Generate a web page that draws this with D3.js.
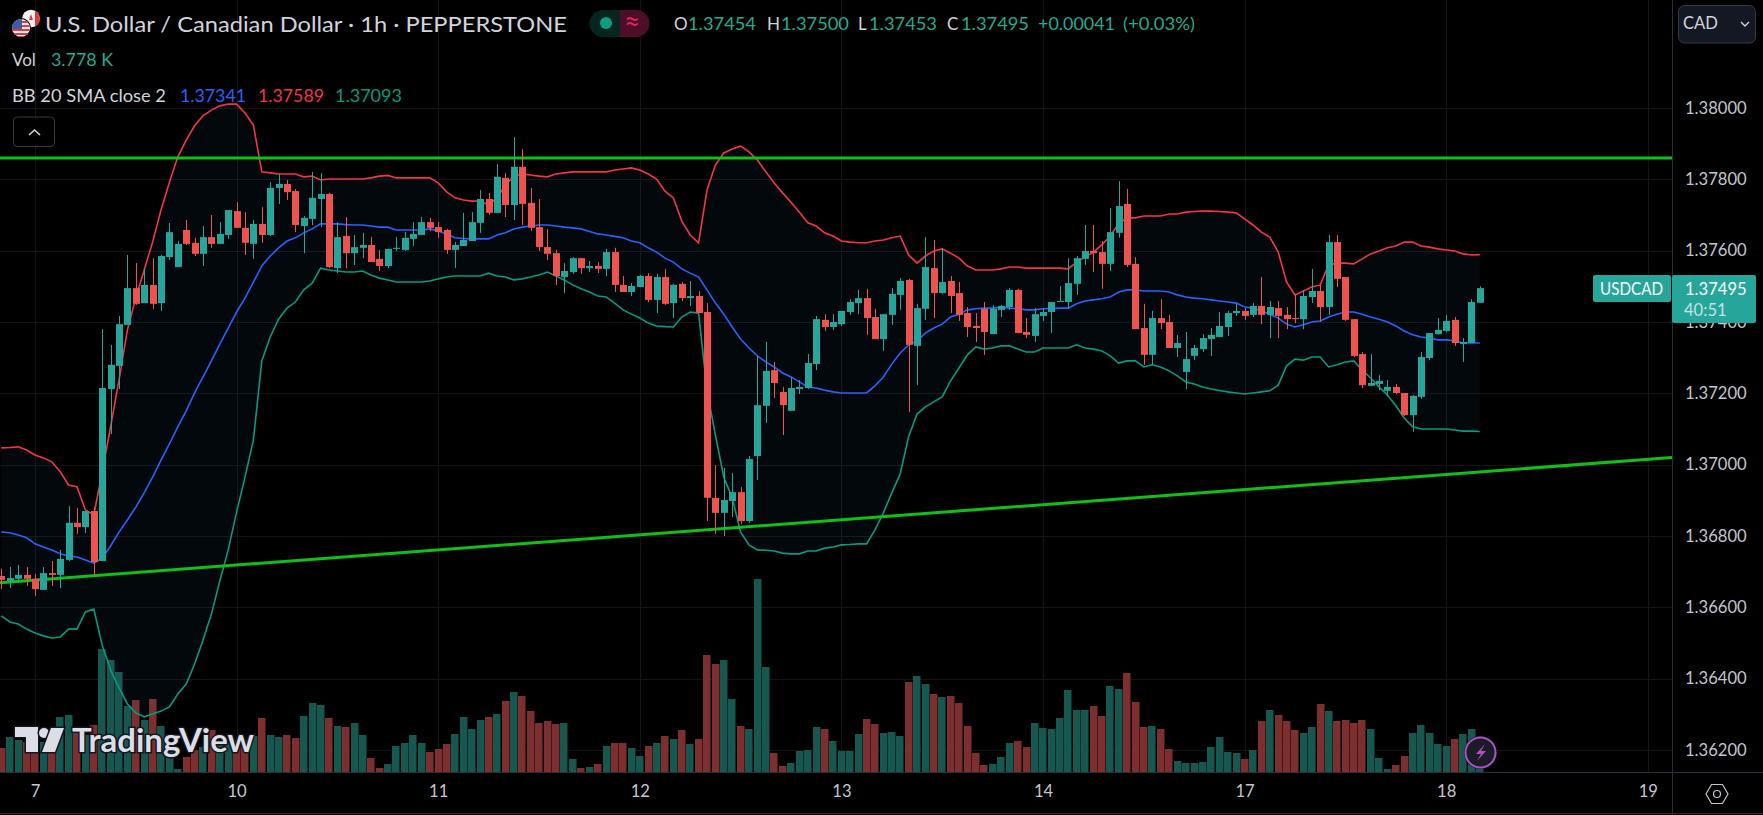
<!DOCTYPE html>
<html>
<head>
<meta charset="utf-8">
<title>USDCAD 1h</title>
<script src="https://cdn.jsdelivr.net/npm/d3@7"></script>
<style>
  html, body { margin: 0; padding: 0; background: #000; overflow: hidden; }
  text { font-family: "Lato", "Noto Sans", sans-serif; }
</style>
</head>
<body>
<div id="chart"></div>
<script>
// all price series are in points above 1.36000 (1 point = 0.00001)
const opens = [
  688,674,680,691,680,649,696,691,733,837,
  825,870,730,1212,1277,1392,1495,1453,1504,1453,
  1582,1554,1658,1622,1591,1638,1619,1644,1711,1664,
  1619,1675,1644,1776,1787,1767,1669,1689,1745,1759,
  1551,1641,1593,1608,1616,1577,1557,1605,1602,1633,
  1644,1680,1666,1658,1602,1613,1627,1678,1745,1706,
  1804,1728,1835,1734,1666,1610,1593,1526,1540,1579,
  1551,1557,1549,1596,1504,1484,1498,1529,1462,1526,
  1453,1507,1467,1473,1428,907,865,898,923,842,
  1024,1165,1265,1204,1151,1212,1215,1282,1406,1386,
  1394,1428,1453,1467,1414,1352,1420,1476,1518,1333,
  1437,1551,1481,1515,1481,1425,1389,1437,1366,1434,
  1442,1490,1372,1361,1417,1428,1456,1456,1507,1577,
  1599,1596,1563,1650,1731,1563,1383,1308,1411,1400,
  1327,1260,1305,1324,1352,1358,1386,1425,1431,1420,
  1445,1420,1439,1420,1411,1408,1470,1487,1442,1624,
  1526,1408,1310,1221,1226,1207,1218,1201,1139,1190,
  1299,1366,1375,1406,1338,1341,1454];
const highs = [
  708,713,719,713,694,713,730,761,884,879,
  870,881,1380,1336,1417,1588,1565,1551,1579,1588,
  1678,1627,1686,1636,1669,1700,1680,1714,1736,1708,
  1686,1722,1792,1815,1798,1773,1697,1821,1818,1762,
  1680,1694,1644,1650,1638,1602,1605,1638,1652,1680,
  1694,1692,1680,1661,1624,1706,1708,1770,1762,1843,
  1818,1919,1885,1776,1745,1661,1602,1565,1582,1579,
  1571,1568,1605,1608,1529,1509,1532,1537,1535,1549,
  1507,1512,1515,1487,1453,999,991,977,937,1024,
  1305,1344,1288,1218,1246,1237,1310,1417,1422,1422,
  1431,1464,1490,1493,1437,1422,1495,1523,1521,1451,
  1638,1630,1608,1529,1512,1442,1425,1456,1448,1448,
  1495,1493,1411,1439,1439,1456,1501,1579,1585,1672,
  1672,1627,1720,1795,1773,1582,1451,1431,1464,1420,
  1364,1372,1336,1366,1383,1428,1431,1451,1439,1453,
  1526,1459,1459,1442,1479,1490,1549,1504,1644,1644,
  1526,1408,1316,1310,1251,1237,1226,1201,1195,1316,
  1369,1411,1420,1414,1355,1464,1500];
const lows = [
  651,654,668,660,632,649,660,654,730,806,
  808,691,730,1086,1212,1392,1448,1453,1437,1431,
  1574,1554,1616,1585,1557,1608,1619,1633,1664,1588,
  1577,1622,1641,1731,1742,1652,1593,1672,1666,1551,
  1537,1551,1560,1579,1568,1543,1551,1599,1599,1613,
  1644,1655,1636,1591,1551,1613,1627,1650,1700,1706,
  1694,1686,1672,1655,1599,1574,1504,1481,1535,1535,
  1540,1537,1529,1484,1484,1473,1498,1456,1425,1448,
  1411,1459,1445,1425,842,806,800,853,834,837,
  957,1117,1187,1083,1151,1198,1212,1265,1375,1378,
  1389,1420,1422,1364,1352,1319,1392,1434,1148,1223,
  1406,1411,1479,1425,1403,1358,1344,1308,1366,1414,
  1434,1369,1355,1344,1403,1369,1456,1437,1476,1560,
  1540,1493,1543,1636,1554,1380,1280,1280,1380,1327,
  1302,1212,1293,1316,1305,1358,1361,1417,1406,1414,
  1394,1355,1355,1380,1397,1380,1453,1400,1420,1498,
  1403,1302,1215,1221,1209,1193,1198,1137,1092,1184,
  1293,1364,1372,1333,1288,1341,1453];
const closes = [
  677,682,691,680,651,696,691,736,837,825,
  870,727,1215,1280,1394,1495,1451,1504,1451,1585,
  1652,1619,1619,1591,1638,1619,1647,1714,1664,1622,
  1675,1644,1776,1787,1764,1672,1692,1748,1759,1554,
  1638,1593,1610,1616,1568,1557,1605,1608,1636,1647,
  1680,1664,1652,1602,1616,1630,1680,1745,1706,1807,
  1728,1835,1731,1664,1610,1591,1529,1543,1579,1551,
  1557,1549,1596,1504,1484,1501,1529,1462,1526,1451,
  1504,1467,1473,1425,907,865,901,923,842,1016,
  1167,1263,1229,1167,1215,1218,1285,1408,1386,1400,
  1431,1456,1467,1411,1352,1422,1479,1515,1336,1439,
  1554,1481,1512,1473,1420,1386,1383,1372,1437,1445,
  1490,1369,1364,1422,1428,1456,1459,1509,1579,1599,
  1593,1563,1652,1725,1560,1380,1308,1411,1397,1327,
  1341,1296,1327,1355,1364,1389,1425,1431,1417,1445,
  1420,1442,1417,1408,1408,1473,1487,1442,1624,1521,
  1406,1305,1223,1229,1235,1218,1201,1139,1193,1302,
  1369,1378,1403,1341,1344,1456,1495];

const bbUpper = [
  1047,1048,1050,1041,1027,1019,1008,980,943,938,
  873,859,980,1106,1237,1378,1467,1546,1624,1714,
  1792,1863,1910,1950,1978,1994,2006,2011,2011,1986,
  1952,1821,1818,1815,1815,1815,1807,1809,1798,1801,
  1801,1801,1801,1801,1804,1809,1811,1804,1804,1804,
  1804,1804,1790,1765,1748,1742,1739,1739,1728,1748,
  1784,1809,1815,1812,1809,1807,1815,1818,1821,1821,
  1821,1821,1821,1826,1829,1832,1826,1815,1801,1767,
  1748,1683,1644,1622,1770,1840,1874,1885,1893,1877,
  1854,1821,1790,1762,1736,1708,1678,1669,1650,1641,
  1627,1624,1622,1622,1627,1630,1636,1641,1588,1565,
  1585,1599,1605,1593,1579,1557,1546,1546,1546,1549,
  1554,1554,1551,1551,1551,1551,1551,1549,1568,1582,
  1596,1616,1641,1675,1692,1692,1697,1697,1697,1703,
  1703,1708,1710,1711,1711,1710,1708,1706,1689,1672,
  1652,1638,1596,1512,1476,1487,1498,1504,1560,1565,
  1565,1563,1577,1591,1599,1608,1613,1624,1624,1613,
  1610,1605,1602,1599,1591,1588,1589];
const bbBasis = [
  811,809,803,795,778,769,761,750,744,741,
  733,724,738,772,811,845,881,921,965,1013,
  1058,1106,1151,1201,1246,1291,1338,1383,1428,1467,
  1512,1557,1585,1608,1627,1636,1650,1661,1675,1675,
  1675,1673,1672,1672,1669,1666,1666,1658,1658,1658,
  1658,1661,1655,1647,1636,1634,1633,1633,1633,1644,
  1650,1661,1666,1669,1672,1672,1669,1666,1664,1661,
  1654,1647,1644,1640,1636,1627,1622,1608,1596,1579,
  1568,1549,1537,1526,1490,1453,1422,1386,1352,1327,
  1305,1288,1274,1257,1246,1232,1218,1215,1209,1204,
  1201,1201,1201,1201,1221,1246,1282,1313,1336,1347,
  1369,1383,1394,1414,1422,1434,1437,1439,1439,1442,
  1439,1437,1434,1434,1437,1438,1439,1439,1451,1459,
  1462,1465,1470,1484,1490,1490,1487,1487,1487,1484,
  1476,1470,1467,1465,1462,1459,1456,1453,1442,1439,
  1431,1422,1411,1394,1386,1392,1400,1403,1414,1422,
  1428,1428,1422,1414,1408,1400,1389,1375,1364,1358,
  1355,1350,1350,1347,1341,1341,1341];
const bbLower = [
  576,559,553,539,528,520,514,517,539,539,
  587,595,494,424,374,329,304,293,301,309,
  321,357,385,441,508,581,674,761,867,965,
  1069,1291,1358,1408,1439,1456,1490,1509,1551,1546,
  1543,1540,1540,1543,1532,1523,1518,1512,1512,1512,
  1512,1515,1521,1526,1529,1529,1529,1529,1537,1529,
  1526,1518,1521,1526,1532,1540,1529,1518,1504,1493,
  1484,1473,1470,1453,1434,1422,1411,1397,1389,1387,
  1386,1414,1428,1425,1209,1083,965,907,811,775,
  761,760,758,752,750,750,758,758,766,769,
  775,776,778,778,817,865,921,974,1078,1142,
  1162,1176,1190,1235,1271,1308,1330,1324,1327,1333,
  1333,1324,1316,1316,1327,1327,1327,1327,1336,1327,
  1324,1319,1305,1285,1291,1291,1274,1280,1274,1263,
  1249,1232,1226,1218,1212,1208,1204,1201,1198,1201,
  1204,1207,1223,1277,1296,1293,1302,1302,1274,1280,
  1288,1291,1265,1243,1218,1195,1165,1131,1106,1100,
  1100,1100,1100,1097,1094,1094,1093];

// tick volume, thousands
const volumes = [
  6,8.75,8,7.5,8.25,7.5,7.5,13.75,14.25,9.75,
  9.25,11.75,30.75,28,25,16.5,18,13,18.25,11.5,
  5,0.75,3.75,5.5,6.25,10.5,7.25,7.25,8,8,
  9,13.5,9.25,8.75,9.25,8.5,14,17.25,16.75,13.5,
  11.5,11.25,12.25,9.25,3.5,1,2,6.5,7.25,9.25,
  7.25,5,5.75,7,9.5,13.75,10.75,13,13.75,14.5,
  17.75,20,19,15.25,12.25,12.75,12,12.25,3.25,1,
  1.25,2,6.5,7.25,7.25,6,4,6.5,7.25,9,
  8.25,10.5,7,8.25,29.25,27,28,18.25,11.5,10.75,
  48.25,26.25,4.75,1.5,2.25,5.25,5.5,11.25,10.75,7.75,
  5.25,5.25,9.5,13.25,12,9.75,10,9,22.5,24,
  22,19.5,18.75,19,17.25,11.5,4.75,1.75,2,3.75,
  7.25,7.75,6.25,12.25,11,10.75,13.5,20.5,15.5,15.5,
  16.5,14,21.5,20.75,24.75,17.5,11.25,11.5,10.75,5.75,
  2.75,2.25,2.25,2.5,6.25,8.75,5,4.75,3.25,5.5,
  12.75,15.5,14.25,12.75,10.5,9.75,11.25,17,15.25,12.75,
  13,12.25,13,10.75,3.5,0.75,1.75,4,9.75,11.75,
  9.75,7,6.5,8.25,9.5,10.75,3.778];

const priceTicks = [1.362, 1.364, 1.366, 1.368, 1.37, 1.372, 1.374, 1.376, 1.378, 1.38];
const dayBars = [4, 28, 52, 76, 100, 124, 148, 172, 196];
const dayLabels = ['7', '10', '11', '12', '13', '14', '17', '18', '19'];

// drawn trend lines: bar position and points at both ends
const flatLineBars = [-1, 199], flatLinePts = [1860, 1860];
const riseLineBars = [-0.167, 198.9], riseLinePts = [669, 1020];

const width = 1763, height = 815;
const paneRight = 1672, paneBottom = 772;

const toPrice = p => 1.36 + p / 100000;

const x = d3.scaleLinear().domain([0, 176]).range([1.4, 1479.8]);
const y = d3.scaleLinear().domain([1.362, 1.38]).range([750, 108]);
const yVol = d3.scaleLinear().domain([0, 50]).range([paneBottom, paneBottom - 200]);

const upColor = '#26a69a', downColor = '#ef5350';
const upVol = '#165850', downVol = '#7d2e2e';
const gridColor = '#141414', lineColor = '#2a2e39';
const bars = opens.map((o, i) => ({ i, o: toPrice(o), h: toPrice(highs[i]), l: toPrice(lows[i]), c: toPrice(closes[i]), v: volumes[i], up: closes[i] >= o }));

const svg = d3.select('#chart').append('svg')
  .attr('width', width).attr('height', height)
  .style('display', 'block').style('background', '#000');

svg.append('defs').append('clipPath').attr('id', 'pane')
  .append('rect').attr('width', paneRight).attr('height', paneBottom);

const pane = svg.append('g').attr('clip-path', 'url(#pane)');

// grid
pane.selectAll('.hgrid').data(priceTicks).join('line')
  .attr('x1', 0).attr('x2', paneRight)
  .attr('y1', d => Math.round(y(d)) + 0.5).attr('y2', d => Math.round(y(d)) + 0.5)
  .attr('stroke', gridColor);
pane.selectAll('.vgrid').data(dayBars).join('line')
  .attr('y1', 0).attr('y2', paneBottom)
  .attr('x1', d => Math.round(x(d)) + 0.5).attr('x2', d => Math.round(x(d)) + 0.5)
  .attr('stroke', gridColor);

// volume
pane.selectAll('.vol').data(bars).join('rect')
  .attr('x', d => Math.round(x(d.i) - 3.7)).attr('width', 7.5)
  .attr('y', d => yVol(d.v)).attr('height', d => paneBottom - yVol(d.v))
  .attr('fill', d => d.up ? upVol : downVol);

// bollinger bands
const bandArea = d3.area().x((d, i) => x(i)).y0(d => y(toPrice(d))).y1((d, i) => y(toPrice(bbLower[i])));
pane.append('path').datum(bbUpper).attr('d', bandArea).attr('fill', 'rgba(33,150,243,0.05)');
const bandLine = d3.line().x((d, i) => x(i)).y(d => y(toPrice(d)));
[[bbUpper, '#f23645'], [bbBasis, '#2962ff'], [bbLower, '#089981']].forEach(([s, c]) => {
  pane.append('path').datum(s).attr('d', bandLine)
    .attr('fill', 'none').attr('stroke', c).attr('stroke-width', 1.6);
});

// trend lines
[[flatLineBars, flatLinePts], [riseLineBars, riseLinePts]].forEach(([b, p]) => {
  pane.append('line')
    .attr('x1', x(b[0])).attr('x2', x(b[1]))
    .attr('y1', y(toPrice(p[0]))).attr('y2', y(toPrice(p[1])))
    .attr('stroke', '#10bf18').attr('stroke-width', 3);
});

// candles
pane.selectAll('.wick').data(bars).join('line')
  .attr('x1', d => Math.round(x(d.i)) + 0.5).attr('x2', d => Math.round(x(d.i)) + 0.5)
  .attr('y1', d => y(d.h)).attr('y2', d => y(d.l))
  .attr('stroke', d => d.up ? upColor : downColor);
pane.selectAll('.body').data(bars).join('rect')
  .attr('x', d => Math.round(x(d.i)) - 3).attr('width', 7)
  .attr('y', d => y(Math.max(d.o, d.c)))
  .attr('height', d => Math.max(1, Math.abs(y(d.o) - y(d.c))))
  .attr('fill', d => d.up ? upColor : downColor);

// axes
const axisRight = d3.axisRight(y).tickValues(priceTicks).tickSize(0).tickPadding(13).tickFormat(d3.format('.5f'));
const gy = svg.append('g').attr('transform', `translate(${paneRight},0)`).call(axisRight);
gy.select('.domain').remove();
gy.selectAll('text').attr('fill', '#c4c6ce').attr('font-size', 16.6);

const axisBottom = d3.axisBottom(x).tickValues(dayBars).tickSize(0).tickPadding(13).tickFormat((d, i) => dayLabels[i]);
const gx = svg.append('g').attr('transform', `translate(0,${paneBottom})`).call(axisBottom);
gx.select('.domain').remove();
gx.selectAll('text').attr('fill', '#c4c6ce').attr('font-size', 16.6);

svg.append('line').attr('x1', 0).attr('x2', width).attr('y1', paneBottom + 0.5).attr('y2', paneBottom + 0.5).attr('stroke', lineColor);
svg.append('line').attr('x1', paneRight + 0.5).attr('x2', paneRight + 0.5).attr('y1', 0).attr('y2', height).attr('stroke', lineColor);
svg.append('line').attr('x1', 0).attr('x2', width).attr('y1', height - 1.5).attr('y2', height - 1.5).attr('stroke', lineColor);

// settings icon
svg.append('polygon').attr('points', '1706,794 1711.5,784.5 1722.5,784.5 1728,794 1722.5,803.5 1711.5,803.5')
  .attr('fill', 'none').attr('stroke', '#c4c6ce').attr('stroke-width', 1.2);
svg.append('circle').attr('cx', 1717).attr('cy', 794).attr('r', 3.5)
  .attr('fill', 'none').attr('stroke', '#c4c6ce').attr('stroke-width', 1.2);

// header text
function label(txt, px, py, size, fill, len) {
  const t = svg.append('text').attr('x', px).attr('y', py).attr('font-size', size).attr('fill', fill).text(txt);
  if (len) t.attr('textLength', len).attr('lengthAdjust', 'spacingAndGlyphs');
  return t;
}
const headText = '#d1d4dc', greenText = '#22ab94';
label('U.S. Dollar / Canadian Dollar · 1h · PEPPERSTONE', 45, 32, 22, headText, 522);
label('Vol', 12, 66, 17, headText);
label('3.778 K', 51, 66, 17, greenText, 62);
label('BB 20 SMA close 2', 12, 102, 17, headText, 154);
label('1.37341', 180, 102, 17, '#2962ff', 66);
label('1.37589', 258, 102, 17, '#f23645', 66);
label('1.37093', 335, 102, 17, '#089981', 67);

[['O', 674, '1.37454', 688], ['H', 767, '1.37500', 781], ['L', 858, '1.37453', 869], ['C', 947, '1.37495', 961]].forEach(r => {
  label(r[0], r[1], 30, 17, headText);
  label(r[2], r[3], 30, 17, greenText, 68);
});
label('+0.00041', 1038, 30, 17, greenText, 77);
label('(+0.03%)', 1123, 30, 17, greenText, 72);

// status pill
svg.append('path').attr('d', 'M603,10 H620 V37 H603 a13.5,13.5 0 0 1 0,-27 Z').attr('fill', '#06251f');
svg.append('path').attr('d', 'M620,10 H636 a13.5,13.5 0 0 1 0,27 H620 Z').attr('fill', '#4d0f28');
svg.append('circle').attr('cx', 606).attr('cy', 23).attr('r', 6).attr('fill', '#0a9d83');
label('≈', 624, 32, 28, '#e0245e');

// flags
const flagDefs = svg.select('defs');
flagDefs.append('clipPath').attr('id', 'caFlag').append('circle').attr('cx', 31).attr('cy', 18.5).attr('r', 8.8);
flagDefs.append('clipPath').attr('id', 'usFlag').append('circle').attr('cx', 21).attr('cy', 28).attr('r', 9);
const ca = svg.append('g').attr('clip-path', 'url(#caFlag)');
ca.append('rect').attr('x', 22).attr('y', 9).attr('width', 18).attr('height', 19).attr('fill', '#f0f0f0');
ca.append('rect').attr('x', 35).attr('y', 9).attr('width', 5).attr('height', 19).attr('fill', '#e0393e');
ca.append('path').attr('d', 'M31,14 l2,6 h-4 Z').attr('fill', '#e0393e');
svg.append('circle').attr('cx', 21).attr('cy', 28).attr('r', 10).attr('fill', '#000');
const us = svg.append('g').attr('clip-path', 'url(#usFlag)');
us.append('rect').attr('x', 12).attr('y', 19).attr('width', 18).attr('height', 18).attr('fill', '#f2f2f2');
[21, 25, 29, 33, 36].forEach(sy => us.append('rect').attr('x', 12).attr('y', sy).attr('width', 18).attr('height', 2).attr('fill', '#e0393e'));
us.append('rect').attr('x', 12).attr('y', 19).attr('width', 10).attr('height', 10).attr('fill', '#3a5fa8');

// collapse button
svg.append('rect').attr('x', 13.5).attr('y', 117).attr('width', 41).attr('height', 29.5).attr('rx', 4)
  .attr('fill', '#000').attr('stroke', '#363a45');
svg.append('path').attr('d', 'M29,135 L34.5,130 L40,135').attr('fill', 'none').attr('stroke', '#d1d4dc').attr('stroke-width', 1.6);

// currency button
svg.append('rect').attr('x', 1678.5).attr('y', 5.5).attr('width', 77).attr('height', 37.5).attr('rx', 6)
  .attr('fill', '#141823').attr('stroke', '#363a45');
label('CAD', 1683, 29, 16.6, headText);
svg.append('path').attr('d', 'M1741,22 L1745,26 L1749,22').attr('fill', 'none').attr('stroke', '#d1d4dc').attr('stroke-width', 1.4);

// last price labels
svg.append('rect').attr('x', 1593).attr('y', 275).attr('width', 78).attr('height', 27).attr('rx', 2).attr('fill', upColor);
label('USDCAD', 1600, 295, 16.6, '#fff', 63);
svg.append('rect').attr('x', 1672).attr('y', 275).attr('width', 84).attr('height', 48).attr('rx', 2).attr('fill', upColor);
label('1.37495', 1685, 295, 16.6, '#fff');
label('40:51', 1684, 316, 16.6, 'rgba(255,255,255,0.72)');

// watermark
const mark = svg.append('g').attr('fill', '#dcdee6').attr('stroke', '#14161f').attr('stroke-width', 3).attr('paint-order', 'stroke');
mark.append('path').attr('d', 'M15,727 H38 V752 H26 V737 H15 Z');
mark.append('circle').attr('cx', 44).attr('cy', 733).attr('r', 5);
mark.append('path').attr('d', 'M51,728 H64 L55,752 H42 Z');
mark.append('text').attr('x', 72).attr('y', 752).attr('font-size', 32).attr('font-weight', 700)
  .attr('textLength', 182).attr('lengthAdjust', 'spacingAndGlyphs').text('TradingView');

// lightning badge
svg.append('circle').attr('cx', 1480.5).attr('cy', 752.5).attr('r', 16.5).attr('fill', '#14161f');
svg.append('circle').attr('cx', 1480.5).attr('cy', 752.5).attr('r', 15).attr('fill', '#1a1c27').attr('stroke', '#b24fc4').attr('stroke-width', 2);
svg.append('path').attr('d', 'M1485,744 L1476,754 H1481 L1477,761 L1486,751 H1481 Z').attr('fill', '#b24fc4');
</script>
</body>
</html>
